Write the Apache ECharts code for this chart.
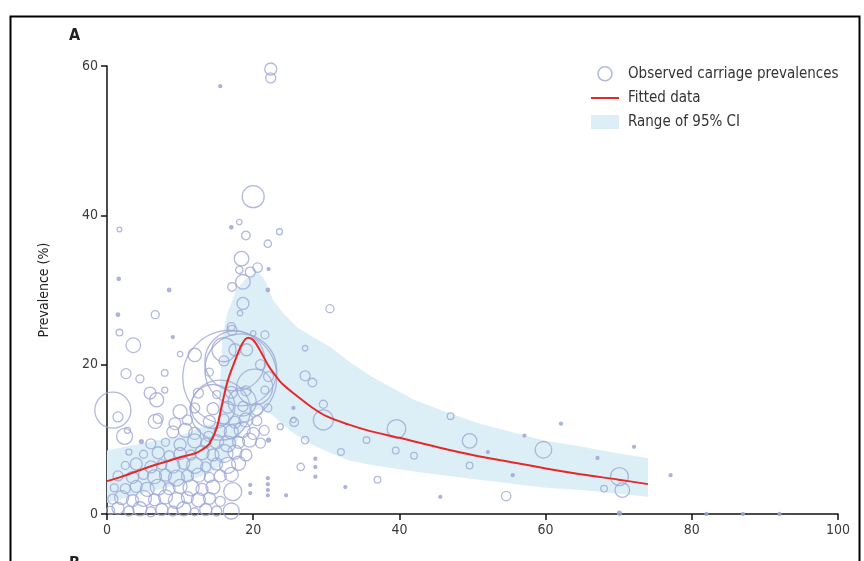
<!DOCTYPE html>
<html>
<head>
<meta charset="utf-8">
<script src="https://cdn.jsdelivr.net/npm/echarts@6/dist/echarts.min.js"></script>
<style>
html,body{margin:0;padding:0;background:#fff;}
#chart{width:864px;height:561px;}
</style>
</head>
<body>
<div id="chart"></div>
<script>
// ---- data ----
var xTicks = [0, 20, 40, 60, 80, 100];
var yTicks = [0, 20, 40, 60];

// observed carriage prevalences: [x, prevalence %, study size]
var observed = [
  [21.9,60.9,36],[22.4,59.6,144],[22.4,58.4,100],[15.5,57.3,7],
  [20.0,42.5,484],[18.1,39.1,30],[17.0,38.4,12],[19.0,37.3,75],[23.6,37.8,36],[22.0,36.2,55],
  [18.4,34.2,213],[18.1,32.7,55],[19.6,32.4,100],[20.6,33.0,88],[22.1,32.8,7],[18.6,31.1,213],
  [17.1,30.4,75],[22.0,30.0,12],[18.6,28.2,144],[18.2,26.9,30],[30.5,27.5,64],
  [1.7,38.1,22],[1.6,31.5,12],[8.5,30.0,12],[1.5,26.7,12],[6.6,26.7,64],[1.7,24.3,44],
  [3.6,22.6,213],[9.0,23.7,7],[12.0,21.3,180],[10.0,21.4,30],[7.9,18.9,44],[2.6,18.8,100],[4.5,18.1,64],
  [17.1,24.6,100],[17.0,25.1,64],[21.6,24.0,64],[20.0,24.2,30],[27.1,22.2,30],[19.1,22.0,144],
  // large studies in the main cluster
  [16.8,18.3,8836],[18.3,19.3,5184],[17.5,20.5,3600],[15.5,13.9,3600],[14.5,14.4,1936],
  [20.2,17.0,1296],[18.5,15.0,784],[16.0,22.0,576],[0.8,13.9,1296],
  // dense low-prevalence cluster
  [0.5,0.5,64],[1.5,0.8,144],[3,0.4,100],[4.5,0.7,196],[6,0.3,100],[7.5,0.6,144],[9,0.4,100],
  [10.5,0.7,196],[12,0.3,64],[13.5,0.6,144],[15,0.4,100],[17,0.4,256],
  [0.8,2,100],[2,2.2,196],[3.5,1.8,144],[5,2.1,256],[6.5,1.9,144],[8,2.3,196],[9.5,1.8,256],
  [11,2.2,144],[12.5,1.9,196],[14,2.1,144],[15.5,1.7,100],[17.2,3.0,324],
  [1,3.5,64],[2.5,3.4,100],[4,3.7,144],[5.5,3.3,196],[7,3.6,256],[8.5,3.4,144],[10,3.7,196],
  [11.5,3.5,256],[13,3.3,144],[14.5,3.6,196],
  [1.5,5.1,100],[3.5,4.9,144],[5,5.3,100],[6.5,5,196],[8,5.2,144],[9.5,4.8,256],[11,5.1,144],
  [12.5,5.2,196],[14,4.9,100],[15.5,5.1,144],[17,5.3,196],
  [2.5,6.5,64],[4,6.7,144],[6,6.3,144],[7.5,6.6,100],[9,6.4,196],[10.5,6.8,144],[12,6.5,256],
  [13.5,6.3,100],[15,6.7,144],[16.5,6.5,256],[18,6.8,196],
  [3,8.3,36],[5,8.0,64],[7,8.2,144],[8.5,7.8,100],[10,8.1,144],[11.5,7.9,100],[13,8.2,196],
  [14.5,7.9,144],[16,8.1,324],[17.5,8.3,196],[19,7.9,144],
  [4.7,9.7,16],[6,9.4,100],[8,9.6,64],[10,9.3,144],[12,9.8,196],[13.5,9.5,100],[15,9.7,196],
  [16.5,9.4,256],[18,9.6,144],[19.5,9.9,196],[21,9.5,100],
  [2.8,11.2,36],[6.6,12.4,196],[9,11.0,144],[10.7,11.2,196],[12,10.8,144],[13.9,10.4,100],
  [15.5,11.1,144],[17,11.0,196],[18.5,11.3,256],[20,10.8,144],[21.5,11.2,100],
  [2.4,10.4,256],[7,12.8,100],[9.3,12.1,144],[11,12.6,100],[14,12.4,144],[16,12.7,100],
  [17.5,12.3,144],[19,12.6,196],[20.5,12.5,100],
  [1.5,13.0,100],[10,13.7,196],[12,14.2,100],[14.5,14.1,144],[16.5,14.3,144],[18.6,14.4,100],
  [20.5,14.0,144],[22,14.2,64],
  [5.9,16.2,144],[6.8,15.3,196],[7.9,16.6,36],[12.5,16.2,100],[15,16,64],[17,16.3,144],
  [19,16.5,100],[21.6,16.6,64],[22.1,18.4,100],[21,20,100],[16,20.5,100],[17.5,22,144],[14,19,64],
  // right-hand studies
  [23.7,11.7,36],[25.5,12.6,30],[22.1,9.9,16],[25.6,12.3,75],
  [27.1,18.5,100],[28.1,17.6,75],[29.6,14.7,64],[29.6,12.6,400],[25.5,14.2,4],[27.1,9.9,55],
  [32.0,8.3,44],[35.5,9.9,44],[39.6,11.4,346],[39.5,8.5,44],[42.0,7.8,44],[47.0,13.1,44],
  [49.6,9.8,213],[49.6,6.5,44],[52.1,8.3,7],[57.1,10.5,7],[59.7,8.6,276],[62.1,12.1,7],
  [55.5,5.2,7],[54.6,2.4,88],[37.0,4.6,44],[32.6,3.6,7],[45.6,2.3,7],[26.5,6.3,55],
  [28.5,7.4,5],[28.5,6.3,5],[28.5,5.0,5],[24.5,2.5,7],[67.1,7.5,7],[72.1,9.0,7],
  [70.1,5.0,324],[70.5,3.2,213],[68.0,3.4,44],[77.1,5.2,7],[70.1,0.1,16],
  [82,0,5],[87,0,5],[92,0,5],
  [19.6,3.9,5],[19.6,2.8,5],[22,4.8,5],[22,4.0,5],[22,3.2,5],[22,2.5,5]
];

// fitted curve
var fitX = [0,2,4,6,8,10,12,13,14,15,15.7,16.5,17.5,18.5,19.3,20,21,22,23,24,26,28,30,33,36,40,45,50,55,60,65,70,74];
var fitY = [4.4,5.0,5.7,6.4,7.0,7.6,8.1,8.6,9.4,11.5,14.5,17.8,20.5,22.8,23.6,23.3,21.8,20.0,18.6,17.4,15.8,14.3,13.1,12.0,11.1,10.2,9.0,7.9,7.0,6.1,5.3,4.6,4.0];

// 95% CI band
var ciX     = [0,5,10,14,15.2,15.8,16.5,17.7,19,20.5,21.5,22.7,24,26,28,30.5,33,36,42,46,51,56,60,65,70,74];
var ciUpper = [8.5,9.5,10.5,12,12.4,24,27,30,31.5,32.5,31.5,28.7,27,25,23.8,22.4,20.5,18.5,15.3,13.8,12.1,10.8,9.8,9.0,8.1,7.5];
var ciLower = [1.5,2.8,4.0,5.5,6.2,6.8,7.6,9.5,12.2,14.0,13.8,13.2,12.0,10.5,9.3,8.2,7.2,6.6,5.7,5.2,4.6,4.0,3.5,3.2,2.7,2.3];

// ---- chart ----
var FONT = "'Liberation Sans Narrow','DejaVu Sans Condensed','Liberation Sans',sans-serif";
var CIRCLE = '#9ea7d4';
var RED = '#e5292b';
var BAND = '#dceff7';

var fitData = fitX.map(function (x, i) { return [x, fitY[i]]; });
var obsData = observed.map(function (d) {
  var item = { value: d };
  if (d[2] <= 16) item.itemStyle = { color: CIRCLE };
  return item;
});

var chart = echarts.init(document.getElementById('chart'));
chart.setOption({
  animation: false,
  backgroundColor: '#fff',
  grid: { left: 107, right: 26, top: 66, bottom: 47 },
  xAxis: {
    type: 'value', min: 0, max: 100, interval: 20,
    axisLine: { show: true, lineStyle: { color: '#111', width: 1.5 } },
    axisTick: { show: true, length: 6, lineStyle: { color: '#111', width: 1.5 } },
    axisLabel: { fontFamily: FONT, fontSize: 14, color: '#3a3a3a', margin: 9,
      formatter: function (v) { return xTicks.indexOf(v) >= 0 ? String(v) : ''; } },
    splitLine: { show: false }
  },
  yAxis: {
    type: 'value', min: 0, max: 60, interval: 20,
    name: 'Prevalence (%)', nameLocation: 'middle', nameGap: 56,
    nameTextStyle: { fontFamily: FONT, fontSize: 14, color: '#222' },
    axisLine: { show: true, lineStyle: { color: '#111', width: 1.5 } },
    axisTick: { show: true, length: 6, lineStyle: { color: '#111', width: 1.5 } },
    axisLabel: { fontFamily: FONT, fontSize: 14, color: '#3a3a3a', margin: 9,
      formatter: function (v) { return yTicks.indexOf(v) >= 0 ? String(v) : ''; } },
    splitLine: { show: false }
  },
  legend: {
    orient: 'vertical', left: 585, top: 61,
    itemWidth: 28, itemHeight: 14, itemGap: 9,
    textStyle: { fontFamily: FONT, fontSize: 15, color: '#333', padding: [0, 0, 0, 4] },
    data: [
      { name: 'Observed carriage prevalences', icon: 'circle',
        itemStyle: { color: 'rgba(0,0,0,0)', borderColor: CIRCLE, borderWidth: 1.5 } },
      { name: 'Fitted data', itemStyle: { opacity: 0 }, lineStyle: { color: RED, width: 2 } },
      { name: 'Range of 95% CI', icon: 'rect', itemStyle: { color: BAND } }
    ]
  },
  graphic: [
    { type: 'rect', left: 8, top: 14, shape: { width: 849, height: 600 },
      style: { fill: 'none', stroke: '#000', lineWidth: 2 }, z: 100 },
    { type: 'text', left: 69, top: 28, style: { text: 'A', font: 'bold 16px ' + FONT, fill: '#222' }, z: 100 },
    { type: 'text', left: 69, top: 556, style: { text: 'B', font: 'bold 16px ' + FONT, fill: '#222' }, z: 100 }
  ],
  series: [
    {
      name: 'Range of 95% CI', type: 'custom', z: 1,
      data: [[0, 0]],
      itemStyle: { color: BAND },
      renderItem: function (params, api) {
        var pts = [];
        for (var i = 0; i < ciX.length; i++) pts.push(api.coord([ciX[i], ciUpper[i]]));
        for (var j = ciX.length - 1; j >= 0; j--) pts.push(api.coord([ciX[j], ciLower[j]]));
        return { type: 'polygon', shape: { points: pts }, style: { fill: BAND } };
      }
    },
    {
      name: 'Observed carriage prevalences', type: 'scatter', z: 2,
      symbol: 'circle',
      symbolSize: function (v) { return Math.max(3, Math.sqrt(v[2])); },
      itemStyle: { color: 'rgba(0,0,0,0)', borderColor: CIRCLE, borderWidth: 1.3 },
      data: obsData
    },
    {
      name: 'Fitted data', type: 'line', z: 3,
      smooth: 0.35, showSymbol: false, symbol: 'none',
      lineStyle: { color: RED, width: 2 },
      itemStyle: { color: RED },
      data: fitData
    }
  ]
});
</script>
</body>
</html>
